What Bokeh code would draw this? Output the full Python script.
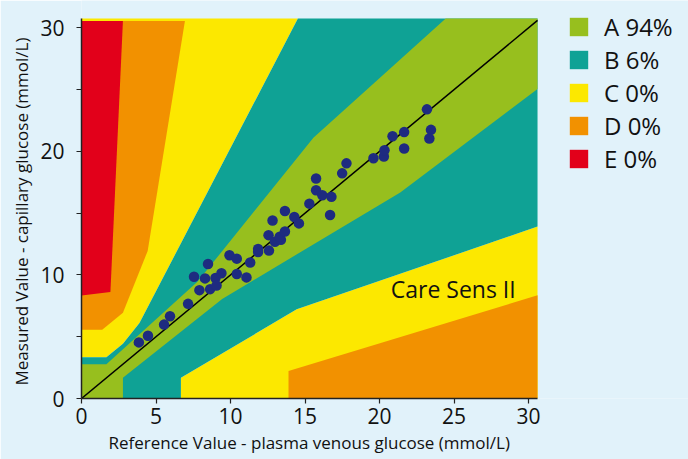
from bokeh.plotting import figure
from bokeh.models import Legend, LegendItem, Label, FixedTicker, Range1d, Title
from bokeh.embed import file_html
from bokeh.resources import INLINE

# ---- data (mmol/L) ----
ref = [3.85, 4.46, 5.54, 5.94, 7.15, 7.91, 7.55, 8.29, 8.49, 8.63, 8.99, 9.06, 9.39, 9.93,
       10.42, 10.42, 11.07, 11.32, 11.85, 11.85, 12.58, 12.55, 12.82, 12.98, 13.38, 13.30,
       13.65, 13.65, 14.28, 14.59, 15.29, 15.74, 15.74, 16.16, 16.77, 16.68, 17.49, 17.78,
       19.59, 20.29, 20.33, 20.87, 21.65, 21.65, 23.18, 23.45, 23.34]
meas = [4.54, 5.08, 5.98, 6.65, 7.66, 8.77, 9.85, 9.72, 10.89, 8.85, 9.75, 9.15, 10.13, 11.60,
        11.32, 10.07, 9.80, 11.00, 11.85, 12.10, 11.97, 13.22, 14.41, 12.68, 12.85, 13.10,
        13.52, 15.18, 14.69, 14.17, 15.77, 17.81, 16.86, 16.45, 16.32, 14.85, 18.22, 19.03,
        19.44, 19.58, 20.09, 21.23, 21.56, 20.23, 23.40, 21.74, 21.04]

# grid extent (mmol/L)
grid_max_x = 30.6
grid_max_y = 30.75

# zone polygons (Parkes-type error grid, mmol/L)
zone_a_x = [0, 0, 1.67, 7.78, 15.56, 24.44, 30.6, 30.6, 21.39, 9.44, 2.78, 2.78]
zone_a_y = [0, 2.78, 2.78, 9.44, 21.11, 30.75, 30.75, 25.04, 16.67, 8.06, 1.67, 0]
zone_b_x = [0, 0, 1.67, 2.78, 3.89, 14.52, 30.6, 30.6, 14.44, 6.67, 6.67]
zone_b_y = [0, 3.33, 3.33, 4.44, 6.11, 30.75, 30.75, 13.91, 7.22, 1.67, 0]
zone_c_up_x = [0, 1.67, 2.78, 3.89, 14.52, 0]
zone_c_up_y = [3.33, 3.33, 4.44, 6.11, 30.75, 30.75]
zone_c_lo_x = [6.67, 6.67, 14.44, 30.6, 30.6]
zone_c_lo_y = [0, 1.67, 7.22, 13.91, 0]
zone_d_up_x = [0, 1.39, 2.78, 4.44, 6.94, 0]
zone_d_up_y = [5.56, 5.56, 6.94, 11.94, 30.56, 30.56]
zone_d_lo_x = [13.89, 13.89, 30.6, 30.6]
zone_d_lo_y = [0, 2.22, 8.35, 0]
zone_e_x = [0, 1.94, 2.78, 0]
zone_e_y = [8.33, 8.61, 30.56, 30.56]
diag = [0, 30.6]

legend_labels = ["A 94%", "B 6%", "C 0%", "D 0%", "E 0%"]
x_ticks = [0, 5, 10, 15, 20, 25, 30]
y_ticks = [0, 10, 20, 30]
y_minor = [5, 15, 25]

C_A, C_B, C_C, C_D, C_E = "#97BF1E", "#0FA295", "#FCE800", "#F29100", "#E2001A"
BG = "#E1F2FA"
FONT = "Open Sans"

# frame spans the whole area right of / below the axes; the grid fills [0,30.6]x[0,30.75]
p = figure(width=688, height=459, output_backend="svg", toolbar_location=None,
           x_range=Range1d(0, 40.73), y_range=Range1d(0, 32.21),
           min_border_left=81, min_border_right=0, min_border_top=0, min_border_bottom=61)
p.background_fill_color = BG
p.border_fill_color = BG
p.outline_line_color = None
p.grid.visible = False

r_c = p.patch(zone_c_up_x, zone_c_up_y, fill_color=C_C, line_color=None)
p.patch(zone_c_lo_x, zone_c_lo_y, fill_color=C_C, line_color=None)
r_d = p.patch(zone_d_up_x, zone_d_up_y, fill_color=C_D, line_color=None)
r_e = p.patch(zone_e_x, zone_e_y, fill_color=C_E, line_color=None)
p.patch(zone_d_lo_x, zone_d_lo_y, fill_color=C_D, line_color=None)
r_b = p.patch(zone_b_x, zone_b_y, fill_color=C_B, line_color=None)
r_a = p.patch(zone_a_x, zone_a_y, fill_color=C_A, line_color=None)

p.line(diag, diag, line_color="black", line_width=1.5)
p.scatter(ref, meas, size=10.5, fill_color="#1E2B80", line_color=None)

p.add_layout(Label(x=20.75, y=7.6, text="Care Sens II", text_font=FONT,
                   text_font_size="23px", text_color="#111111"))

for ax in (p.xaxis[0], p.yaxis[0]):
    ax.axis_line_color = "#222222"
    ax.axis_line_width = 1.5
    ax.major_tick_line_color = "#222222"
    ax.minor_tick_line_color = "#222222"
    ax.major_tick_line_width = 1.2
    ax.minor_tick_line_width = 1.2
    ax.major_tick_in = 0
    ax.major_tick_out = 5
    ax.minor_tick_in = 0
    ax.minor_tick_out = 5
    ax.major_label_text_font = FONT
    ax.major_label_text_font_size = "21px"
    ax.major_label_text_color = "#111111"

p.xaxis[0].bounds = (0, grid_max_x)
p.yaxis[0].bounds = (0, grid_max_y)
p.xaxis[0].ticker = FixedTicker(ticks=x_ticks, minor_ticks=[])
p.yaxis[0].ticker = FixedTicker(ticks=y_ticks, minor_ticks=y_minor)
p.xaxis[0].major_label_standoff = 4
p.yaxis[0].major_label_standoff = 12

# axis titles, aligned to the grid area rather than the whole frame
p.add_layout(Title(text="Reference Value - plasma venous glucose (mmol/L)", align="left",
                   offset=27, standoff=4, text_font=FONT, text_font_size="17px",
                   text_font_style="normal", text_color="#111111"), "below")
p.add_layout(Title(text="Measured Value - capillary glucose (mmol/L)", align="left",
                   offset=13, standoff=9, text_font=FONT, text_font_size="17px",
                   text_font_style="normal", text_color="#111111"), "left")

legend = Legend(items=[LegendItem(label=l, renderers=[r]) for l, r in
                       zip(legend_labels, [r_a, r_b, r_c, r_d, r_e])],
                location=(486, 223), glyph_width=23, glyph_height=23, label_height=23,
                label_standoff=14, spacing=0, padding=0, margin=0,
                border_line_color=None, background_fill_alpha=0,
                label_text_font=FONT, label_text_font_size="24px",
                label_text_color="#111111", label_text_baseline="middle")
p.add_layout(legend, "center")

open("out.html", "w").write(file_html(p, INLINE))
